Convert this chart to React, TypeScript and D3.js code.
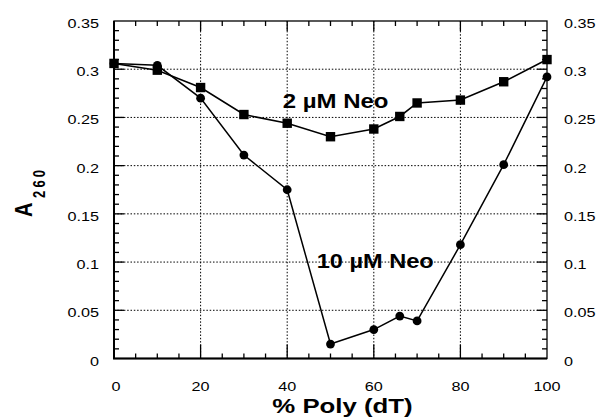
import React from 'react';
import * as d3 from 'd3';

// % poly(dT)
const xValues = [0, 10, 20, 30, 40, 50, 60, 66, 70, 80, 90, 100];
// A260, 2 uM neomycin (squares)
const neo2 = [0.306, 0.299, 0.281, 0.253, 0.244, 0.23, 0.238, 0.251, 0.265, 0.268, 0.287, 0.31];
// A260, 10 uM neomycin (circles)
const neo10 = [0.306, 0.304, 0.27, 0.211, 0.175, 0.015, 0.03, 0.044, 0.039, 0.118, 0.201, 0.292];

const xTicks = [0, 20, 40, 60, 80, 100];
const yTicks = [0, 0.05, 0.1, 0.15, 0.2, 0.25, 0.3, 0.35];
const yTickLabels = ['0', '0.05', '0.1', '0.15', '0.2', '0.25', '0.3', '0.35'];

const W = 597;
const H = 420;
const left = 114, right = 547, top = 21, bottom = 358.5;
const font = '"Liberation Sans", Arial, Helvetica, sans-serif';

// text stretched horizontally like the scanned figure
function Label(props: { x: number; y: number; sx?: number; size: number; anchor?: string; bold?: boolean; children: React.ReactNode }) {
  const { x, y, sx = 1.2, size, anchor = 'start', bold = false } = props;
  return (
    <g transform={`translate(${x},${y}) scale(${sx},1)`}>
      <text x={0} y={0} fontSize={size} textAnchor={anchor} fontWeight={bold ? 'bold' : 'normal'}>{props.children}</text>
    </g>
  );
}

export default function App() {
  const x = d3.scaleLinear().domain([0, 100]).range([left, right]);
  const y = d3.scaleLinear().domain([0, 0.35]).range([bottom, top]);

  const line = d3.line<number>()
    .x((_, i) => x(xValues[i]))
    .y(d => y(d));

  const xMinor = d3.range(5, 100, 5).filter(v => v % 20 !== 0);
  const yMinor = d3.range(1, 35).map(v => v / 100).filter(v => Math.round(v * 100) % 5 !== 0);
  const gridX = xTicks.filter(v => v > 0 && v < 100);
  const gridY = yTicks.filter(v => v > 0 && v < 0.35);

  return (
    <svg width={W} height={H} style={{ position: 'absolute', left: 0, top: 0 }}>
      <rect width={W} height={H} fill="#fff" />
      {/* grid */}
      <g stroke="#000" strokeWidth={1} strokeDasharray="1.5,1.8">
        {gridX.map(v => <line key={'gx' + v} x1={x(v)} x2={x(v)} y1={top} y2={bottom} />)}
        {gridY.map(v => <line key={'gy' + v} x1={left} x2={right} y1={y(v)} y2={y(v)} />)}
      </g>
      {/* ticks */}
      <g stroke="#000" strokeWidth={1.3}>
        {xMinor.map(v => (
          <g key={'xm' + v}>
            <line x1={x(v)} x2={x(v)} y1={bottom} y2={bottom - 5} />
            <line x1={x(v)} x2={x(v)} y1={top} y2={top + 5} />
          </g>
        ))}
        {gridX.map(v => (
          <g key={'xM' + v}>
            <line x1={x(v)} x2={x(v)} y1={bottom} y2={bottom - 14} />
            <line x1={x(v)} x2={x(v)} y1={top} y2={top + 10} />
          </g>
        ))}
        {yMinor.map(v => (
          <g key={'ym' + v}>
            <line x1={left} x2={left + 5} y1={y(v)} y2={y(v)} />
            <line x1={right} x2={right - 5} y1={y(v)} y2={y(v)} />
          </g>
        ))}
        {gridY.map(v => (
          <g key={'yM' + v}>
            <line x1={left} x2={left + 10} y1={y(v)} y2={y(v)} />
            <line x1={right} x2={right - 10} y1={y(v)} y2={y(v)} />
          </g>
        ))}
      </g>
      {/* frame */}
      <rect x={left} y={top} width={right - left} height={bottom - top} fill="none" stroke="#000" strokeWidth={1.3} />
      <path d={`M${left},${top}V${bottom}H${right}`} fill="none" stroke="#000" strokeWidth={2} />
      {/* tick labels */}
      <g fontFamily={font} fill="#000">
        {yTicks.map((v, i) => (
          <Label key={'yl' + v} x={left - 15} y={y(v) + 7} size={13.5} anchor="end">{yTickLabels[i]}</Label>
        ))}
        {yTicks.map((v, i) => (
          <Label key={'yr' + v} x={right + 17} y={y(v) + 7} size={13.5}>{yTickLabels[i]}</Label>
        ))}
        {xTicks.map(v => (
          <Label key={'xl' + v} x={x(v) + (v === 0 ? 2 : 0)} y={391} size={13.5} anchor="middle">{v}</Label>
        ))}
      </g>
      {/* series */}
      <path d={line(neo10) || ''} fill="none" stroke="#000" strokeWidth={1.5} />
      <path d={line(neo2) || ''} fill="none" stroke="#000" strokeWidth={1.6} />
      {neo10.map((v, i) => (
        <circle key={'c' + i} cx={x(xValues[i])} cy={y(v)} r={4.4} fill="#000" />
      ))}
      {neo2.map((v, i) => (
        <rect key={'s' + i} x={x(xValues[i]) - 4.7} y={y(v) - 4.7} width={9.4} height={9.4} fill="#000" />
      ))}
      {/* annotations */}
      <g fontFamily={font} fill="#000">
        <Label x={282.7} y={108.3} size={20} sx={1.2} bold>2 µM Neo</Label>
        <Label x={316.7} y={268} size={20.5} sx={1.15} bold>10 µM Neo</Label>
        <Label x={342.5} y={413} size={20} sx={1.29} anchor="middle" bold>% Poly (dT)</Label>
        <g transform="translate(32,217) rotate(-90) scale(1,1.2)" fontWeight="bold">
          <text x={0} y={0} fontSize={20}>A</text>
          <text x={19} y={10.5} fontSize={13} textLength={28} lengthAdjust="spacing">260</text>
        </g>
      </g>
    </svg>
  );
}
